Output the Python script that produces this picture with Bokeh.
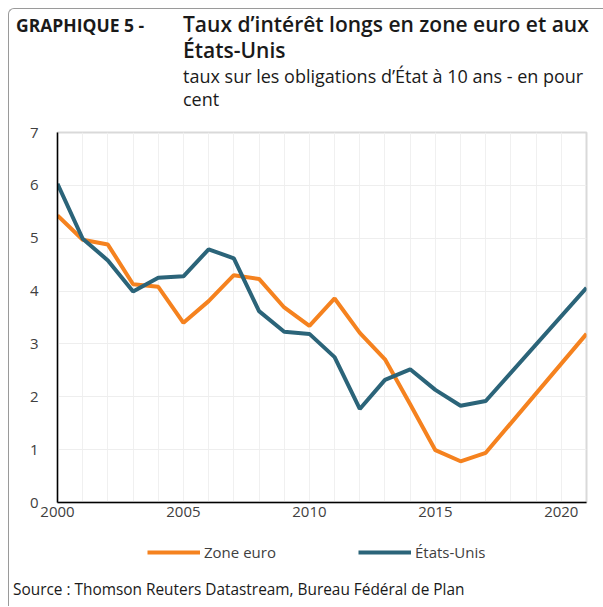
from bokeh.plotting import figure
from bokeh.models import Range1d, Legend, LegendItem, FixedTicker, Div
from bokeh.layouts import column
from bokeh.embed import file_html
from bokeh.resources import INLINE

# Data
years_euro = [2000, 2001, 2002, 2003, 2004, 2005, 2006, 2007, 2008, 2009, 2010,
              2011, 2012, 2013, 2014, 2015, 2016, 2017, 2021]
zone_euro = [5.43, 4.97, 4.88, 4.13, 4.08, 3.40, 3.81, 4.30, 4.23, 3.69, 3.34,
             3.86, 3.21, 2.71, 1.86, 0.99, 0.78, 0.94, 3.19]
years_us = [2000, 2001, 2002, 2003, 2004, 2005, 2006, 2007, 2008, 2009, 2010,
            2011, 2012, 2013, 2014, 2015, 2016, 2017, 2021]
etats_unis = [6.03, 4.99, 4.58, 3.99, 4.25, 4.28, 4.79, 4.62, 3.62, 3.23, 3.19,
              2.75, 1.77, 2.32, 2.52, 2.13, 1.83, 1.92, 4.06]
x_ticks = [2000, 2005, 2010, 2015, 2020]
y_ticks = [0, 1, 2, 3, 4, 5, 6, 7]
series_names = ["Zone euro", "États-Unis"]
label_graph = "GRAPHIQUE 5 -"
title_lines = ["Taux d’intérêt longs en zone euro et aux", "États-Unis"]
subtitle_lines = ["taux sur les obligations d’État à 10 ans - en pour", "cent"]
source_text = "Source : Thomson Reuters Datastream, Bureau Fédéral de Plan"

FONT = "Open Sans"
ORANGE = "#F5821F"
BLUE = "#2B6479"
TXT = "#404040"
W = 594

header_html = f"""
<div style="position:relative;width:{W}px;height:113px;font-family:'{FONT}';color:#1a1a1a;">
  <div style="position:absolute;left:7px;top:6px;font-size:17.5px;line-height:20px;font-weight:700;white-space:nowrap;">{label_graph}</div>
  <div style="position:absolute;left:174px;top:2px;font-size:21px;line-height:26px;font-weight:600;white-space:nowrap;">{title_lines[0]}<br>{title_lines[1]}</div>
  <div style="position:absolute;left:174px;top:55.5px;font-size:18px;line-height:23px;font-weight:400;white-space:nowrap;">{subtitle_lines[0]}<br>{subtitle_lines[1]}</div>
</div>
"""
header = Div(text=header_html, width=W, height=113, margin=0)

footer_html = f"""
<div style="position:relative;width:{W}px;height:33px;font-family:'{FONT}';color:#1a1a1a;">
  <div style="position:absolute;left:4px;top:8px;font-size:15.4px;line-height:18px;white-space:nowrap;">{source_text}</div>
</div>
"""
footer = Div(text=footer_html, width=W, height=33, margin=0)

# Main chart
p = figure(width=W, height=407, output_backend="svg", toolbar_location=None,
           x_range=Range1d(2000, 2021), y_range=Range1d(0, 7),
           min_border_left=48, min_border_right=17, min_border_top=10, min_border_bottom=27,
           background_fill_color="white", border_fill_color="white", margin=0)

p.outline_line_color = "#d9d9d9"
p.outline_line_width = 2

p.xaxis.ticker = FixedTicker(ticks=x_ticks, minor_ticks=list(range(2000, 2022)))
p.yaxis.ticker = FixedTicker(ticks=y_ticks)
for ax in (p.xaxis, p.yaxis):
    ax.axis_line_color = "black"
    ax.axis_line_width = 1.5
    ax.major_tick_line_color = None
    ax.minor_tick_line_color = None
    ax.major_label_text_font = FONT
    ax.major_label_text_font_size = "15px"
    ax.major_label_text_color = TXT
p.xaxis.major_label_standoff = -2
p.yaxis.major_label_standoff = 13

p.xgrid.grid_line_color = "#f0f0f0"
p.xgrid.minor_grid_line_color = "#f0f0f0"
p.ygrid.grid_line_color = "#eeeeee"

p.line(years_euro, zone_euro, line_color=ORANGE, line_width=4)
p.line(years_us, etats_unis, line_color=BLUE, line_width=4)

# Legend strip: a small figure without axes, whose view range excludes the data,
# so only its legend is seen below the chart (its frame is aligned with the chart's).
lf = figure(width=W, height=44, output_backend="svg", toolbar_location=None,
            x_range=Range1d(0, 1), y_range=Range1d(0, 1),
            x_axis_location=None, y_axis_location=None,
            min_border_left=0, min_border_right=0, min_border_top=0, min_border_bottom=0,
            background_fill_color="white", border_fill_color="white", margin=0)
lf.grid.visible = False
lf.outline_line_color = None
g1 = lf.line(years_euro, zone_euro, line_color=ORANGE, line_width=4)
g2 = lf.line(years_us, etats_unis, line_color=BLUE, line_width=4)
legend = Legend(items=[LegendItem(label=series_names[0], renderers=[g1]),
                       LegendItem(label=series_names[1], renderers=[g2])],
                orientation="horizontal", location=(90, 11),
                glyph_width=53, glyph_height=20, label_standoff=4, label_width=120,
                spacing=34, padding=0, margin=0, border_line_color=None,
                background_fill_alpha=0,
                label_text_font=FONT, label_text_font_size="15px", label_text_color=TXT)
lf.add_layout(legend, "center")

layout = column(header, p, lf, footer, spacing=0,
                styles={"margin-left": "8px", "margin-top": "8px",
                        "border-left": "1px solid #9a9a9a", "border-top": "1px solid #9a9a9a",
                        "border-top-left-radius": "6px"})

open("out.html", "w").write(file_html(layout, INLINE))
